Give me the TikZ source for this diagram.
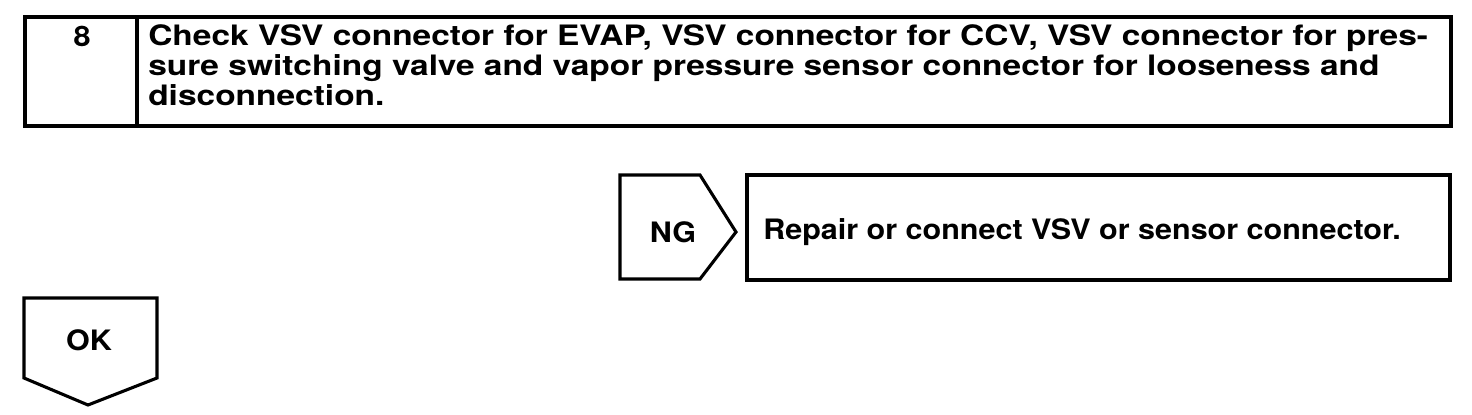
\documentclass[tikz,border=0pt]{standalone}
\usepackage{fontspec}
\setmainfont{TeX Gyre Heros}
\newfontfamily\stepface{TeX Gyre Heros}[FakeStretch=1.19]
\newfontfamily\boxface{TeX Gyre Heros}[FakeStretch=1.085]

\newcommand*{\picw}{1472}
\newcommand*{\pich}{414}

\begin{document}
\begin{tikzpicture}
[
	x=0.025cm,y=-0.025cm,
	frame/.style={draw,line width=2.2pt,line join=miter},
	label/.style={inner sep=0pt,font=\boxface\fontsize{20}{20}\selectfont\bfseries},
	steptext/.style={inner sep=0pt,align=left,anchor=north west,
		font=\stepface\fontsize{20}{21.3}\selectfont\bfseries}
]

	\useasboundingbox (0,0) rectangle (\picw,\pich);

	% step box
	\draw[frame] (25,17) rectangle (1451,126);
	\draw[frame] (137,17) -- (137,126);
	\node[label] (num) at (82,36) {8};
	\node[steptext] (check) at (148,24) {Check VSV connector for EVAP, VSV connector for CCV, VSV connector for pres-\\
		sure switching valve and vapor pressure sensor connector for looseness and\\
		disconnection.};

	% NG branch
	\draw[frame] (620,175) -- (700,175) -- (736,232) -- (700,279) -- (620,279) -- cycle;
	\node[label] (ng) at (673,232) {NG};
	\draw[frame] (747,175) rectangle (1450,280);
	\node[label,anchor=west] (repair) at (763,232) {Repair or connect VSV or sensor connector.};

	% OK branch
	\draw[frame] (24,298) -- (157,298) -- (157,378) -- (88,405) -- (24,378) -- cycle;
	\node[label] (ok) at (89,340) {OK};

\end{tikzpicture}
\end{document}
